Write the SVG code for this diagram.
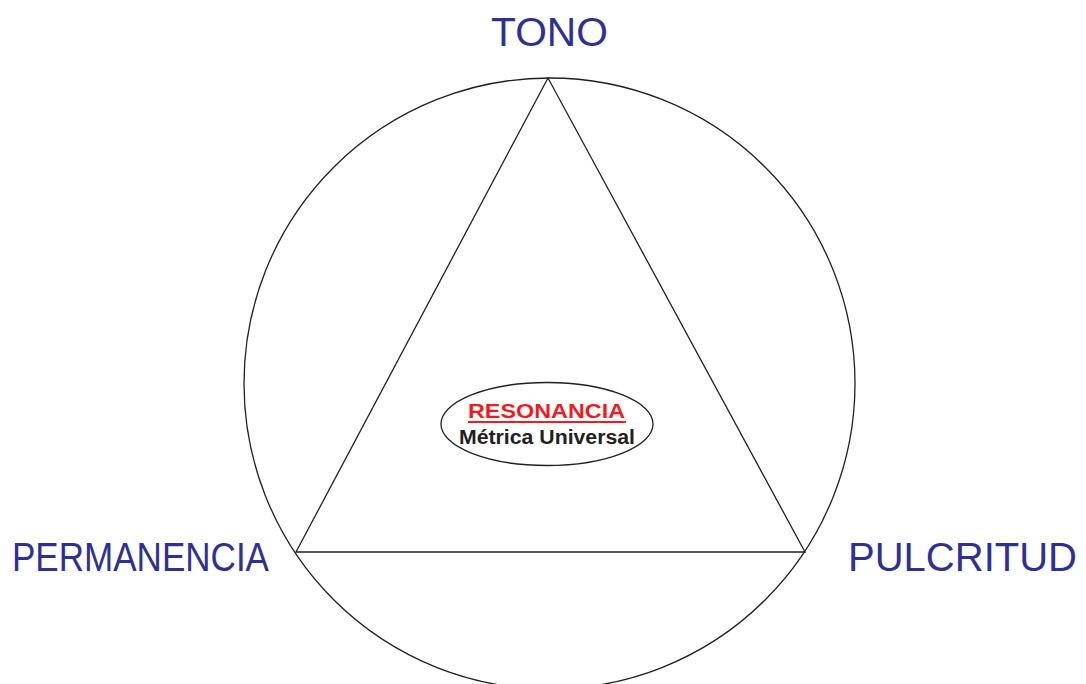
<svg xmlns="http://www.w3.org/2000/svg" width="1086" height="684" viewBox="0 0 1086 684">
<style>
.ln{fill:none;stroke:#231f20;stroke-width:1.3}
.lbl{font-family:"Liberation Sans",Arial,sans-serif;font-size:40px;fill:#2e3192}
.b{font-family:"Liberation Sans",Arial,sans-serif;font-weight:bold;font-size:20px}
</style>
<rect width="1086" height="684" fill="#fff"/>
<g id="connectors">
<circle class="ln" cx="549.5" cy="383.5" r="305.5"/>
<polygon class="ln" points="548,78 296,552 805,552"/>
</g>
<g id="tono"><text class="lbl" x="491" y="46" textLength="117" lengthAdjust="spacingAndGlyphs">TONO</text></g>
<g id="permanencia"><text class="lbl" x="12" y="571" textLength="257" lengthAdjust="spacingAndGlyphs">PERMANENCIA</text></g>
<g id="pulcritud"><text class="lbl" x="848" y="571" textLength="229" lengthAdjust="spacingAndGlyphs">PULCRITUD</text></g>
<g id="resonancia">
<ellipse cx="547" cy="424" rx="106" ry="41.5" fill="#fff" stroke="#231f20" stroke-width="1.3"/>
<text class="b" x="468" y="418" fill="#ed1c24" textLength="157" lengthAdjust="spacingAndGlyphs">RESONANCIA</text>
<rect x="468" y="421" width="158" height="2" fill="#ed1c24"/>
<text class="b" x="459" y="444" fill="#231f20" textLength="176" lengthAdjust="spacingAndGlyphs">Métrica Universal</text>
</g>
</svg>
